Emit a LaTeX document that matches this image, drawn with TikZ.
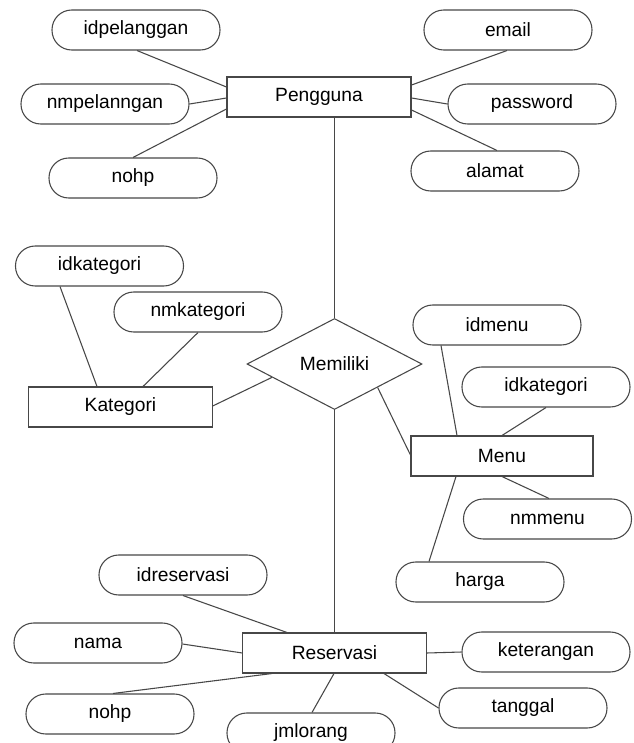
\documentclass[tikz,border=0pt]{standalone}
\usepackage{fontspec}
\setmainfont{Liberation Sans}
\usetikzlibrary{calc,shapes.geometric}
\tikzset{
  ln/.style={draw=black!72, line width=0.8pt},
  attr/.style={ln, rectangle, rounded corners=14.8pt, minimum width=126pt, minimum height=30pt, inner sep=0pt, font=\fontsize{14.4}{17}\selectfont},
  ent/.style={ln, rectangle, minimum width=137.5pt, minimum height=30pt, inner sep=0pt, font=\fontsize{14.4}{17}\selectfont},
  rel/.style={ln, diamond, minimum width=131.25pt, minimum height=68.25pt, inner sep=0pt, font=\fontsize{14.4}{17}\selectfont},
  conn/.style={ln}
}
\begin{document}
\begin{tikzpicture}[x=0.75pt,y=-0.75pt]
\useasboundingbox (0,0) rectangle (634,743);
\fill[white] (0,0) rectangle (634,743);
\clip (0,0) rectangle (634,743);
% entities
\node[ent, minimum width=138pt] (peng) at (319,97) {Pengguna};
\node[ent] (kat) at (120.5,407) {Kategori};
\node[ent, minimum width=136.5pt] (menu) at (502,456) {Menu};
\node[ent] (res) at (334.5,653) {Reservasi};
\node[rel] (rel) at (334.5,364) {Memiliki};
% attributes
\node[attr] (a1) at (136,30) {idpelanggan};
\node[attr] (a2) at (105,104) {nmpelanngan};
\node[attr] (a3) at (133,178) {nohp};
\node[attr] (a4) at (508,30) {email};
\node[attr] (a5) at (532,104) {password};
\node[attr] (a6) at (495,171) {alamat};
\node[attr] (k1) at (99.5,266) {idkategori};
\node[attr] (k2) at (198,312) {nmkategori};
\node[attr] (m1) at (497,325) {idmenu};
\node[attr] (m2) at (546,387) {idkategori};
\node[attr] (m3) at (547.5,519) {nmmenu};
\node[attr] (m4) at (480,582) {harga};
\node[attr] (r1) at (183,575) {idreservasi};
\node[attr] (r2) at (98,643) {nama};
\node[attr] (r3) at (110,714) {nohp};
\node[attr] (r4) at (311,733) {jmlorang};
\node[attr] (r5) at (546,652) {keterangan};
\node[attr] (r6) at (523,708) {tanggal};
% connectors Pengguna
\draw[conn] ($(a1.south)+(1,0)$) -- ($(peng.west)+(0,-10)$);
\draw[conn] (a2.east) -- ($(peng.west)+(0,1)$);
\draw[conn] (a3.north) -- ($(peng.west)+(0,12)$);
\draw[conn] ($(peng.east)+(0,-12)$) -- ($(a4.south)+(-1,0)$);
\draw[conn] ($(peng.east)+(0,1)$) -- (a5.west);
\draw[conn] ($(peng.east)+(0,13)$) -- ($(a6.north)+(2,0)$);
\draw[conn] (peng.south -| rel.north) -- (rel.north);
% Kategori
\draw[conn] ($(k1.south)+(-39.5,0)$) -- ($(kat.north)+(-23.5,0)$);
\draw[conn] (k2.south) -- ($(kat.north)+(22.5,0)$);
\draw[conn] ($(kat.east)+(0,-1)$) -- ($(rel.west)!0.29!(rel.south)$);
% Menu
\draw[conn] ($(rel.east)!0.51!(rel.south)$) -- ($(menu.west)+(0,-1)$);
\draw[conn] ($(m1.south)+(-56,0)$) -- ($(menu.north)+(-45,0)$);
\draw[conn] (m2.south) -- (menu.north);
\draw[conn] (menu.south) -- ($(m3.north)+(1.5,0)$);
\draw[conn] ($(menu.south)+(-46,0)$) -- ($(m4.north)+(-51,0)$);
% Reservasi
\draw[conn] (rel.south) -- (res.north);
\draw[conn] (r1.south) -- ($(res.north)+(-47.5,0)$);
\draw[conn] ($(r2.east)+(0,1)$) -- (res.west);
\draw[conn] ($(r3.north)+(3,0)$) -- ($(res.south)+(-62.5,0)$);
\draw[conn] ($(res.south)+(-0.5,0)$) -- ($(r4.north)+(1,0)$);
\draw[conn] (res.east) -- (r5.west);
\draw[conn] ($(res.south)+(49.5,0)$) -- (r6.west);
\end{tikzpicture}
\end{document}
